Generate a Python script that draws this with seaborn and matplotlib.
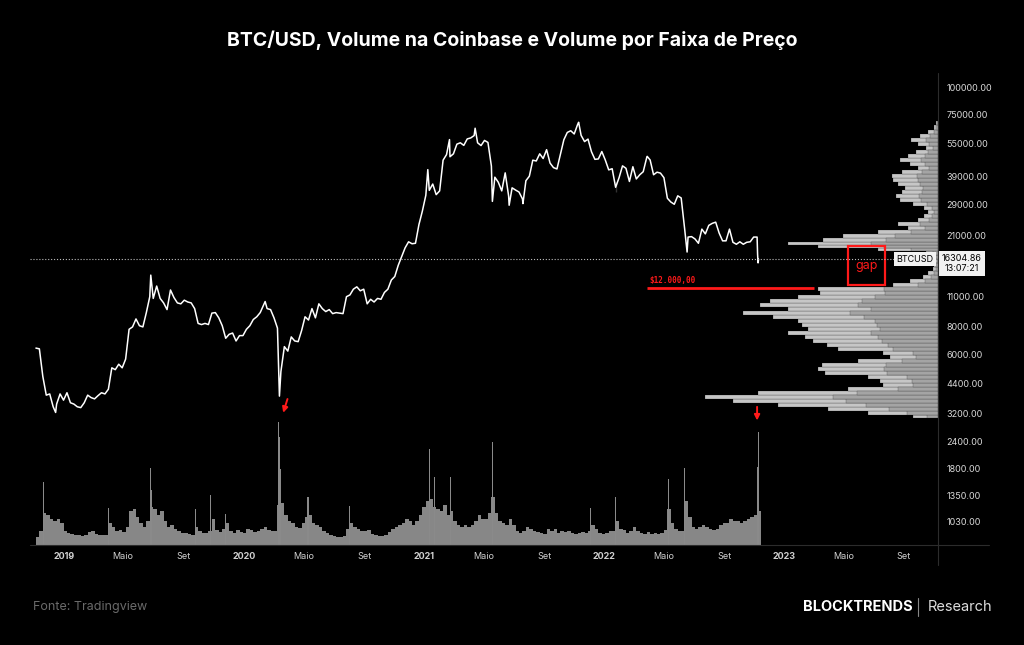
import numpy as np
import pandas as pd
import seaborn as sns
import matplotlib.pyplot as plt
import matplotlib.transforms as mtransforms
from matplotlib.patches import Rectangle
from matplotlib.lines import Line2D
from matplotlib.ticker import NullLocator

# Preço semanal (segundas-feiras), de 05/11/2018 a 07/11/2022
price_2018 = [6400, 6350, 4750, 3900, 3950, 3450, 3550, 3950, 3700]
price_2019 = [4000, 3600, 3550, 3450,
              3420, 3600, 3900, 3800,
              3750, 3880, 4000, 3950,
              4150, 5200, 5100, 5400, 5200,
              5700, 7800, 8000, 8700,
              8100, 8000, 9300, 11000,
              10800, 12300, 10800, 10300, 9600,
              11800, 10900, 10300, 10200,
              10600, 10400, 10300, 9700, 8300,
              8200, 8300, 8200, 9250,
              9300, 8800, 8100, 7100,
              7400, 7500, 6900, 7300, 7300]
price_2020 = [7800, 8100, 8650, 8900,
              9300, 10100, 9700, 9600,
              8800, 7900, 5000, 6500, 6200,
              7200, 6900, 6850, 7700,
              8900, 8600, 9700, 8800,
              10200, 9700, 9400, 9600, 9200,
              9300, 9250, 9200, 11000,
              11200, 11900, 12200, 11700, 11900,
              10200, 10700, 10400, 10800,
              10700, 11500, 11900, 13100,
              13600, 15300, 16800, 18400, 19600,
              19200, 19300, 23500, 27100]
price_2021 = [32000, 33700, 36000, 32200,
              33500, 46300, 49100, 48000,
              49500, 54800, 55600, 54100, 57900,
              58500, 60000, 55600, 54000,
              57000, 55800, 43500, 38700, 36700,
              33500, 40500, 31700, 34600,
              33800, 33100, 30800, 37300,
              39100, 46300, 45900, 49500, 47100,
              51700, 44900, 42800, 42200,
              49200, 57400, 62000, 63100,
              61000, 67500, 60100, 56300, 57800,
              50600, 46700, 46900, 50700]
price_2022 = [46400, 41800, 42300, 36700, 38500,
              43600, 42500, 37000, 43200,
              38000, 39700, 41000, 47500,
              46400, 39700, 40800, 40400,
              38500, 31000, 29800, 29100, 31800,
              31100, 22500, 20600, 20700,
              20200, 19300, 22400, 21300,
              23300, 23800, 24100, 21500, 19800,
              19800, 22400, 19500, 19100,
              19600, 19100, 19500, 19600, 20600,
              20600]

# máximas / mínimas marcantes
extreme_dates = ['2018-12-15', '2019-06-26', '2020-02-13', '2020-03-13', '2021-01-08',
                 '2021-02-21', '2021-04-14', '2021-05-19', '2021-06-22', '2021-07-20',
                 '2021-11-10', '2022-01-24', '2022-03-29', '2022-06-18', '2022-11-08',
                 '2022-11-09', '2022-11-10']
extreme_prices = [3250, 13800, 10450, 3860, 41900,
                  57500, 64800, 30000, 28800, 29300,
                  69000, 33000, 48200, 17600, 17200,
                  15700, 16304.86]

# Volume semanal na Coinbase (mil BTC, aprox.)
vol_2018 = [8, 14, 32, 30, 26, 24, 26, 22, 14]
vol_2019 = [12, 11, 10, 10, 9, 10, 13, 14, 11, 10, 10, 10,
            22, 18, 14, 15, 13, 18, 34, 36, 28, 22, 18, 24, 38,
            36, 30, 34, 24, 18, 20, 16, 14, 12, 12, 11, 10, 18, 14,
            12, 12, 14, 26, 15, 13, 16, 22, 14, 12, 15, 13, 12]
vol_2020 = [16, 15, 13, 14, 16, 18, 15, 14, 14, 40, 42, 30, 24,
            22, 18, 17, 22, 28, 30, 22, 20, 18, 14, 12, 10, 9,
            8, 8, 9, 16, 22, 18, 16, 14, 14, 15, 11, 10, 9,
            9, 10, 13, 16, 18, 20, 22, 26, 24, 20, 24, 30, 38]
vol_2021 = [44, 46, 38, 36, 34, 40, 30, 34, 24, 20, 18, 20, 18,
            20, 24, 30, 26, 26, 32, 48, 32, 24, 22, 20, 26, 20,
            14, 12, 14, 18, 16, 14, 13, 12, 11, 16, 14, 16, 12,
            14, 13, 14, 12, 11, 12, 13, 12, 14, 20, 16, 12, 11]
vol_2022 = [12, 14, 14, 24, 16, 15, 12, 14, 18, 14, 12, 11, 13,
            11, 12, 11, 12, 15, 36, 22, 16, 14, 14, 44, 28, 18,
            16, 18, 20, 18, 16, 15, 16, 20, 22, 22, 26, 24, 24,
            22, 24, 26, 28, 30, 34]

# dias de volume extremo
spike_dates = ['2018-11-20', '2019-04-02', '2019-06-26', '2019-06-27', '2019-09-24',
               '2019-10-26', '2019-11-25', '2020-03-12', '2020-03-13', '2020-03-16',
               '2020-05-10', '2020-08-02', '2021-01-11', '2021-01-21', '2021-02-23',
               '2021-05-19', '2021-12-04', '2022-01-24', '2022-05-12', '2022-06-13',
               '2022-11-08', '2022-11-09']
spike_vols = [63, 37, 77, 55, 36,
              50, 31, 123, 108, 76,
              48, 39, 96, 68, 68,
              103, 37, 48, 66, 77,
              78, 113]

# Volume por faixa de preço (limites das faixas e largura)
profile_edges = [3060, 3160, 3300, 3440, 3590, 3740, 3900, 4070, 4250, 4430,
                 4620, 4820, 5030, 5240, 5470, 5700, 5950, 6200, 6470, 6750,
                 7040, 7340, 7660, 7990, 8330, 8690, 9070, 9460, 9860, 10300,
                 10700, 11200, 11700, 12200, 12700, 13300, 13800, 14400, 15000, 15700,
                 16400, 17100, 17800, 18400, 18900, 19600, 20400, 21300, 22200, 23100,
                 24100, 25200, 26300, 27400, 28600, 29800, 31100, 32400, 33800, 35300,
                 36800, 38400, 40000, 41700, 43500, 45400, 47400, 49400, 51500, 53800,
                 56100, 58500, 60900, 63600, 67000, 69900]
profile_vols = [25, 70, 110, 160, 205, 233, 180, 90, 55, 58,
                70, 113, 120, 116, 80, 48, 55, 100, 111, 125,
                133, 150, 130, 136, 140, 165, 195, 150, 178, 168,
                140, 118, 120, 45, 28, 15, 10, 5, 4, 3,
                5, 12, 60, 120, 150, 115, 95, 60, 30, 40,
                20, 14, 10, 14, 25, 38, 42, 36, 33, 40,
                45, 46, 36, 20, 28, 38, 30, 22, 12, 20,
                27, 18, 10, 4, 2]
up_share = 0.45

axis_ticks = [100000, 75000, 55000, 39000, 29000, 21000, 11000, 8000, 6000,
              4400, 3200, 2400, 1800, 1350, 1030]
x_ticks = ['2019-01-01', '2019-05-01', '2019-09-01', '2020-01-01', '2020-05-01', '2020-09-01',
           '2021-01-01', '2021-05-01', '2021-09-01', '2022-01-01', '2022-05-01', '2022-09-01',
           '2023-01-01', '2023-05-01', '2023-09-01']
x_labels = ['2019', 'Maio', 'Set', '2020', 'Maio', 'Set', '2021', 'Maio', 'Set',
            '2022', 'Maio', 'Set', '2023', 'Maio', 'Set']

last_price = 16304.86

# ---- montar séries
weekly_price = price_2018 + price_2019 + price_2020 + price_2021 + price_2022
weekly_vol = vol_2018 + vol_2019 + vol_2020 + vol_2021 + vol_2022
week_dates = pd.date_range('2018-11-05', periods=len(weekly_price), freq='7D')

df_price = pd.DataFrame({
    'data': list(week_dates) + list(pd.to_datetime(extreme_dates)),
    'preco': weekly_price + extreme_prices,
}).sort_values('data')

sns.set_theme(style='dark')
plt.rcParams['font.family'] = ['Inter', 'DejaVu Sans']

x_left = pd.Timestamp('2018-10-24')
x_right = pd.Timestamp('2023-11-09')
y_low, y_high = 805, 113500

fig = plt.figure(figsize=(10.24, 6.45), dpi=100, facecolor='black')
rect = [30 / 1024, 100 / 645, 908 / 1024, 470 / 645]
ax_vol = fig.add_axes(rect)
ax_prof = fig.add_axes(rect)
ax = fig.add_axes(rect)
for a in (ax_vol, ax_prof, ax):
    a.set_facecolor('none')
    a.grid(False)
    for s in a.spines.values():
        s.set_visible(False)
ax_vol.set_facecolor('black')

# volume
ax_vol.bar(week_dates, weekly_vol, width=7, align='edge', color='#878787', linewidth=0)
ax_vol.bar(pd.to_datetime(spike_dates), spike_vols, width=2.2, color='#8a8a8a', linewidth=0)
ax_vol.set_xlim(x_left, x_right)
ax_vol.set_ylim(0, 470)
ax_vol.set_xticks([])
ax_vol.set_yticks([])

# volume por faixa de preço
edges = np.array(profile_edges, dtype=float)
widths = np.array(profile_vols, dtype=float)
ax_prof.set_yscale('log')
ax_prof.barh(edges[:-1], widths, height=np.diff(edges), align='edge',
             color='#c6c6c6', edgecolor='#111111', linewidth=0.15)
ax_prof.barh(edges[:-1], widths * up_share, height=np.diff(edges), align='edge',
             color='#a4a4a4', edgecolor='#111111', linewidth=0.15)
ax_prof.set_xlim(908, 0)
ax_prof.set_ylim(y_low, y_high)
ax_prof.set_xticks([])
ax_prof.yaxis.set_major_locator(NullLocator())
ax_prof.yaxis.set_minor_locator(NullLocator())

# preço
ax.set_yscale('log')
sns.lineplot(data=df_price, x='data', y='preco', ax=ax, color='white', linewidth=1.1)
ax.set_xlim(x_left, x_right)
ax.set_ylim(y_low, y_high)
ax.set_xlabel('')
ax.set_ylabel('')
ax.yaxis.tick_right()
ax.set_yticks(axis_ticks)
ax.set_yticklabels([f'{t:.2f}' for t in axis_ticks])
ax.yaxis.set_minor_locator(NullLocator())
ax.tick_params(axis='y', colors='#d8d8d8', labelsize=6.5, length=0, pad=6)
ax.set_xticks(pd.to_datetime(x_ticks))
ax.set_xticklabels(x_labels)
ax.tick_params(axis='x', colors='#d0d0d0', labelsize=6.5, length=0, pad=5)
for lab in ax.get_xticklabels():
    if lab.get_text().isdigit():
        lab.set_fontweight('bold')

# linha do preço atual
ax.axhline(last_price, xmin=0, xmax=(895 - 30) / 908, color='#bdbdbd', linestyle=':', linewidth=0.8)
blend = mtransforms.blended_transform_factory(ax.transAxes, ax.transData)
ax.text((915 - 30) / 908, last_price, 'BTCUSD', transform=blend, ha='center', va='center',
        fontsize=6.5, color='black', bbox=dict(boxstyle='square,pad=0.3', fc='#f2f2f2', ec='none'))
ax.text((962 - 30) / 908, 15600, f'{last_price:.2f}\n13:07:21', transform=blend, ha='center', va='center',
        fontsize=6.5, color='black', linespacing=1.1, clip_on=False,
        bbox=dict(boxstyle='square,pad=0.3', fc='#f2f2f2', ec='none'))

# marcações em vermelho
red = '#ff1a1a'
ax.hlines(12000, pd.Timestamp('2022-03-29'), pd.Timestamp('2023-03-03'), color=red, linewidth=2)
ax.text(pd.Timestamp('2022-04-02'), 12500, '$12.000,00', color=red, fontsize=5.5,
        fontweight='bold', family='DejaVu Sans Mono', va='bottom')
gap_x0 = pd.Timestamp('2023-05-11')
gap_x1 = pd.Timestamp('2023-07-25')
ax.add_patch(Rectangle((gap_x0, 12400), gap_x1 - gap_x0, 18800 - 12400,
                       fill=False, edgecolor=red, linewidth=1.6))
ax.text(pd.Timestamp('2023-06-17'), 15200, 'gap', color=red, fontsize=9, ha='center', va='center')
ax.annotate('', xy=(pd.Timestamp('2020-03-19'), 3150), xytext=(pd.Timestamp('2020-03-31'), 3850),
            arrowprops=dict(arrowstyle='-|>', color=red, lw=1.4, mutation_scale=8))
ax.annotate('', xy=(pd.Timestamp('2022-11-07'), 2900), xytext=(pd.Timestamp('2022-11-07'), 3550),
            arrowprops=dict(arrowstyle='-|>', color=red, lw=1.4, mutation_scale=8))

# linhas dos eixos
fig.add_artist(Line2D([30 / 1024, 989 / 1024], [100 / 645, 100 / 645], color='#2c2c2c', linewidth=0.8))
fig.add_artist(Line2D([938 / 1024, 938 / 1024], [80 / 645, 572 / 645], color='#2c2c2c', linewidth=0.8))

# título e rodapé
fig.text(0.5, 1 - 40 / 645, 'BTC/USD, Volume na Coinbase e Volume por Faixa de Preço',
         ha='center', va='center', color='white', fontsize=14, fontweight='bold')
fig.text(33 / 1024, 1 - 607 / 645, 'Fonte: Tradingview', color='#6a6a6a', fontsize=9, va='center')
fig.text(803 / 1024, 1 - 607 / 645, 'BLOCKTRENDS', color='white', fontsize=10.5,
         fontweight='bold', va='center')
fig.add_artist(Line2D([918 / 1024, 918 / 1024], [1 - 616 / 645, 1 - 598 / 645], color='#888888', linewidth=0.8))
fig.text(928 / 1024, 1 - 607 / 645, 'Research', color='#dddddd', fontsize=10.5, va='center')

plt.savefig('out.png', dpi=100, facecolor='black')
